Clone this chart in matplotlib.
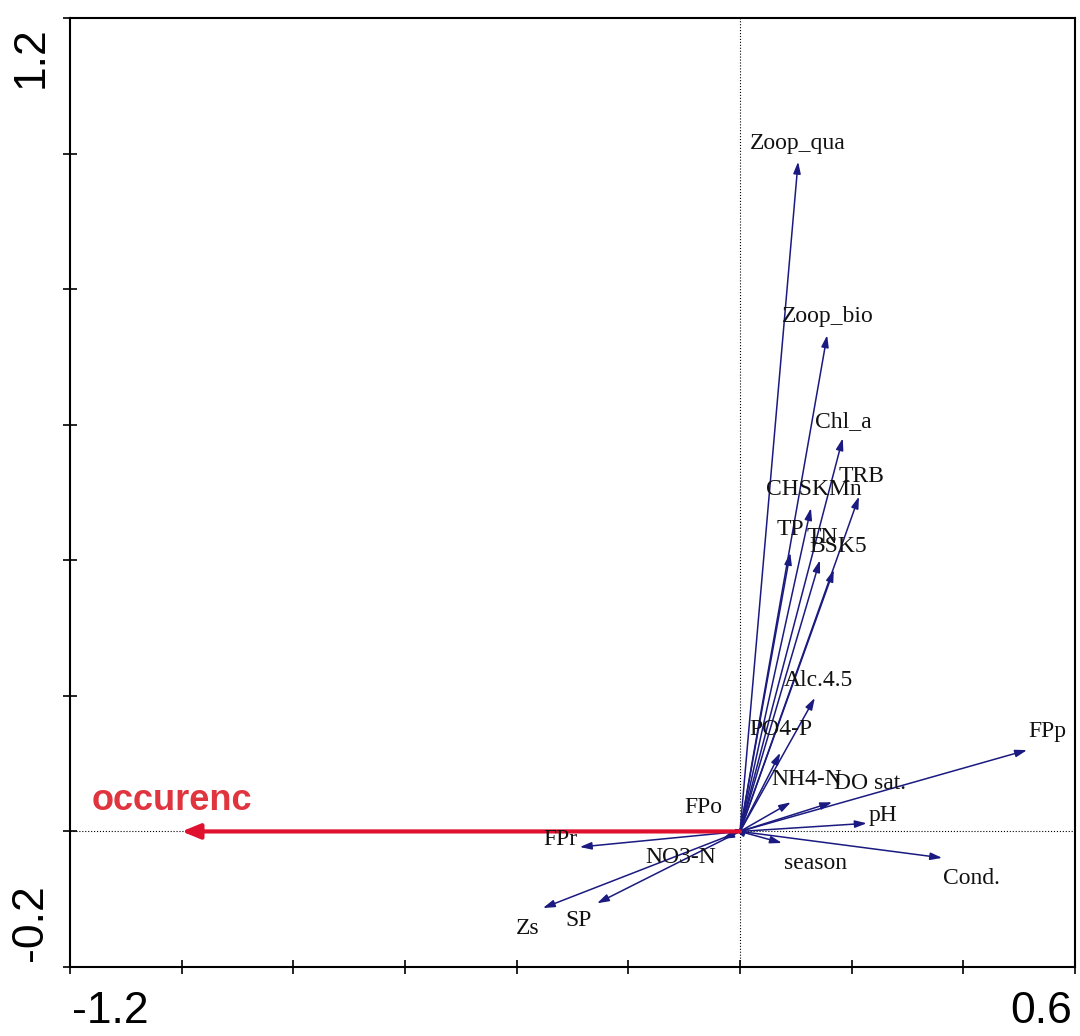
import matplotlib
matplotlib.use('Agg')
import matplotlib.pyplot as plt

# arrow tips (x, y) of the biplot vectors
names = ['Zoop_qua', 'Zoop_bio', 'Chl_a', 'TRB', 'CHSKMn', 'TP', 'TN', 'BSK5',
         'Alc.4.5', 'PO4-P', 'NH4-N', 'DO sat.', 'pH', 'FPp', 'Cond.', 'season',
         'FPo', 'FPr', 'NO3-N', 'SP', 'Zs']
tip_x = [0.104, 0.156, 0.184, 0.213, 0.127, 0.090, 0.143, 0.168,
         0.134, 0.072, 0.091, 0.165, 0.227, 0.514, 0.362, 0.075,
         -0.012, -0.287, -0.032, -0.256, -0.353]
tip_y = [0.988, 0.732, 0.580, 0.494, 0.477, 0.411, 0.400, 0.386,
         0.197, 0.116, 0.043, 0.043, 0.012, 0.120, -0.039, -0.017,
         0.004, -0.023, -0.011, -0.106, -0.113]
# label anchors (left edge, vertical centre)
lab_x = [0.018, 0.075, 0.134, 0.176, 0.047, 0.066, 0.120, 0.125,
         0.079, 0.016, 0.056, 0.168, 0.231, 0.516, 0.364, 0.079,
         -0.100, -0.353, -0.170, -0.312, -0.401]
lab_y = [1.015, 0.760, 0.605, 0.523, 0.504, 0.445, 0.433, 0.421,
         0.222, 0.150, 0.077, 0.070, 0.023, 0.147, -0.069, -0.048,
         0.036, -0.012, -0.039, -0.131, -0.143]

# species / response arrow
resp_name = 'occurenc'
resp_x, resp_y = -1.0, 0.0
resp_lab = (-1.161, 0.046)

xmin, xmax = -1.2, 0.6
ymin, ymax = -0.2, 1.2

fig = plt.figure(figsize=(10.8, 10.36), dpi=100)
ax = fig.add_axes([0.0648, 0.0666, 0.9306, 0.916])
ax.set_xlim(xmin, xmax)
ax.set_ylim(ymin, ymax)

ax.axvline(0, color='black', lw=0.8, ls=':', zorder=1)
ax.axhline(0, color='black', lw=0.8, ls=':', zorder=1)

navy = '#1a1a80'
for n, x, y, lx, ly in zip(names, tip_x, tip_y, lab_x, lab_y):
    ax.annotate('', xy=(x, y), xytext=(0, 0),
                arrowprops=dict(arrowstyle='-|>,head_length=0.7,head_width=0.22',
                                color=navy, lw=1.1, shrinkA=0, shrinkB=0))
    ax.text(lx, ly, n, family='Liberation Serif', fontsize=17,
            color='#111111', ha='left', va='center', zorder=5)

ax.annotate('', xy=(resp_x, resp_y), xytext=(0, 0),
            arrowprops=dict(arrowstyle='-|>,head_length=1.1,head_width=0.45',
                            color='#e0102f', lw=3, shrinkA=0, shrinkB=0), zorder=3)
ax.text(resp_lab[0], resp_lab[1], resp_name, family='Liberation Sans',
        fontweight='bold', fontsize=26, color='#e0353f', ha='left', va='center')

ax.set_xticks([-1.2 + 0.2 * i for i in range(10)])
ax.set_yticks([-0.2 + 0.2 * i for i in range(8)])
ax.set_xticklabels([])
ax.set_yticklabels([])
ax.tick_params(direction='inout', length=10, width=1.2, colors='black')
for s in ax.spines.values():
    s.set_linewidth(1.5)

tf = dict(family='Liberation Sans', fontsize=32, color='black', transform=ax.transAxes)
ax.text(0.002, -0.047, '-1.2', ha='left', va='center', **tf)
ax.text(0.997, -0.047, '0.6', ha='right', va='center', **tf)
ax.text(-0.039, 0.991, '1.2', ha='center', va='top', rotation=90, **tf)
ax.text(-0.039, 0.006, '-0.2', ha='center', va='bottom', rotation=90, **tf)

fig.savefig('out.png', dpi=100)
